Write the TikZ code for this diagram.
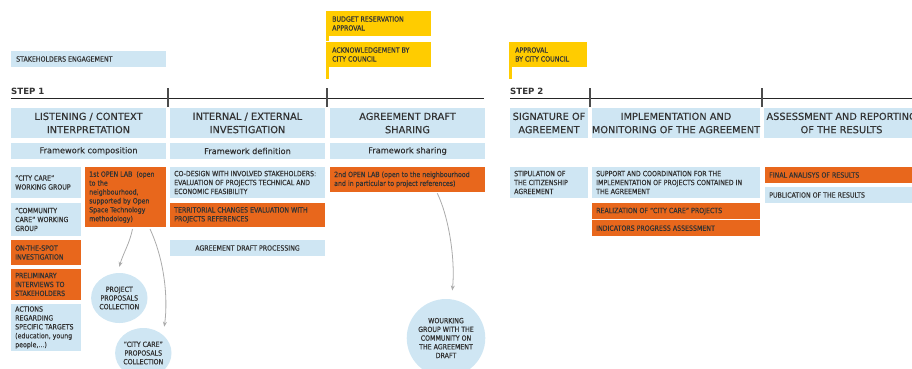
\documentclass[tikz,border=0pt]{standalone}
\usepackage{fontspec}
\setmainfont{DejaVu Sans}
\newfontfamily\smallf{DejaVu Sans}[FakeStretch=0.87,FakeBold=0.4]
\newfontfamily\headf{DejaVu Sans}[FakeBold=0.3]
\usetikzlibrary{shapes.geometric,arrows.meta,calc}
\definecolor{lb}{HTML}{CFE6F3}
\definecolor{og}{HTML}{E8671C}
\definecolor{yl}{HTML}{FFCC00}
\definecolor{tx}{HTML}{333333}
\definecolor{ar}{HTML}{ABABAB}
\tikzset{
 boxshape/.style={rectangle, anchor=north west, inner sep=0pt, outer sep=0pt},
 bluebox/.style={boxshape, fill=lb},
 orangebox/.style={boxshape, fill=og},
 yellowbox/.style={boxshape, fill=yl},
 small/.style={font=\smallf\fontsize{7.2}{8.9}\selectfont, text=tx, inner sep=0pt},
 head/.style={font=\headf\fontsize{9.8}{13.3}\selectfont, text=tx, inner sep=0pt},
 frametxt/.style={font=\headf\fontsize{8.2}{10}\selectfont, text=tx, inner sep=0pt},
 steplbl/.style={font=\fontsize{8.6}{10}\selectfont\bfseries, text=tx, inner sep=0pt, anchor=base west},
 rule/.style={draw=black!85, line width=0.9pt},
 tick/.style={draw=black!70, line width=1.1pt},
 arr/.style={draw=ar, line width=0.8pt, -{Stealth[length=5pt,width=4pt]}},
 bubble/.style={ellipse, fill=lb, inner sep=0pt, font=\smallf\fontsize{7.2}{8.7}\selectfont, text=tx, align=center},
}
\newcommand\lbx[8][4]{%
 \pgfmathsetmacro\bw{#6-#4}\pgfmathsetmacro\bh{#7-#5}%
 \node[#2, minimum width=\bw pt, minimum height=\bh pt] (#3) at (#4,#5) {};
 \node[small, anchor=west, align=left] (#3t) at ([xshift=#1pt]#3.west) {#8};}
\newcommand\cbx[8]{%
 \pgfmathsetmacro\bw{#5-#3}\pgfmathsetmacro\bh{#6-#4}%
 \node[#1, minimum width=\bw pt, minimum height=\bh pt] (#2) at (#3,#4) {};
 \node[#7, align=center] (#2t) at (#2.center) {#8};}
\begin{document}
\begin{tikzpicture}[x=1pt,y=-1pt]
\useasboundingbox (0,0) rectangle (912,368);
\clip (0,0) rectangle (912,368);

% yellow flags
\lbx[6]{yellowbox}{bud}{326}{11}{431}{36}{BUDGET RESERVATION\\APPROVAL}
\fill[yl] (bud.south west) rectangle ++(3,5);
\lbx[6]{yellowbox}{ack}{326}{42}{431}{67}{ACKNOWLEDGEMENT BY\\CITY COUNCIL}
\fill[yl] (ack.south west) rectangle ++(3,12);
\lbx[6]{yellowbox}{appr}{509}{42}{587}{67}{APPROVAL\\BY CITY COUNCIL}
\fill[yl] (appr.south west) rectangle ++(3,12);

% stakeholders
\lbx[5]{bluebox}{stake}{11}{51}{166}{67}{STAKEHOLDERS ENGAGEMENT}

% steps
\node[steplbl] (s1) at (11,94.5) {STEP 1};
\node[steplbl] (s2) at (510,94.5) {STEP 2};
\draw[rule] (11,98.3) -- (484,98.3);
\draw[rule] (510,98.3) -- (912,98.3);
\draw[tick] (168,88) -- (168,107);
\draw[tick] (327,88) -- (327,107);
\draw[tick] (590,88) -- (590,107);
\draw[tick] (762,88) -- (762,107);

% headers
\cbx{bluebox}{h1}{11}{108}{166}{138}{head}{LISTENING / CONTEXT\\INTERPRETATION}
\cbx{bluebox}{h2}{170}{108}{325}{138}{head}{INTERNAL / EXTERNAL\\INVESTIGATION}
\cbx{bluebox}{h3}{330}{108}{485}{138}{head}{AGREEMENT DRAFT\\SHARING}
\cbx{bluebox}{h4}{510}{108}{588}{138}{head}{SIGNATURE OF\\AGREEMENT}
\cbx{bluebox}{h5}{592}{108}{760}{138}{head}{IMPLEMENTATION AND\\MONITORING OF THE AGREEMENT}
\cbx{bluebox}{h6}{764}{108}{919}{138}{head}{ASSESSMENT AND REPORTING\\OF THE RESULTS}

\cbx{bluebox}{f1}{11}{143}{166}{159}{frametxt}{Framework composition}
\cbx{bluebox}{f2}{170}{143}{325}{159}{frametxt}{Framework definition}
\cbx{bluebox}{f3}{330}{143}{485}{159}{frametxt}{Framework sharing}

% column 1
\lbx{bluebox}{cc}{11}{167}{81}{198}{“CITY CARE”\\WORKING GROUP}
\lbx{bluebox}{comm}{11}{203}{81}{236}{“COMMUNITY\\CARE” WORKING\\GROUP}
\lbx{orangebox}{spot}{11}{240}{81}{265}{ON-THE-SPOT\\INVESTIGATION}
\lbx{orangebox}{prel}{11}{269}{81}{300}{PRELIMINARY\\INTERVIEWS TO\\STAKEHOLDERS}
\lbx{bluebox}{act}{11}{304}{81}{351}{ACTIONS\\REGARDING\\SPECIFIC TARGETS\\(education, young\\people,...)}
\lbx{orangebox}{lab1}{85}{167}{166}{227}{1st OPEN LAB\ \ (open\\to the\\neighbourhood,\\supported by Open\\Space Technology\\methodology)}

% column 2
\lbx{bluebox}{codes}{170}{167}{325}{198}{CO-DESIGN WITH INVOLVED STAKEHOLDERS:\\EVALUATION OF PROJECTS TECHNICAL AND\\ECONOMIC FEASIBILITY}
\lbx{orangebox}{terr}{170}{203}{325}{227}{TERRITORIAL CHANGES EVALUATION WITH\\PROJECTS REFERENCES}
\cbx{bluebox}{adp}{170}{240}{325}{256}{small}{AGREEMENT DRAFT PROCESSING}

% column 3
\lbx{orangebox}{lab2}{330}{167}{485}{192}{2nd OPEN LAB (open to the neighbourhood\\and in particular to project references)}

% step 2
\lbx{bluebox}{stip}{510}{167}{588}{198}{STIPULATION OF\\THE CITIZENSHIP\\AGREEMENT}
\lbx{bluebox}{supp}{592}{167}{760}{198}{SUPPORT AND COORDINATION FOR THE\\IMPLEMENTATION OF PROJECTS CONTAINED IN\\THE AGREEMENT}
\lbx{orangebox}{real}{592}{203}{760}{219.3}{REALIZATION OF “CITY CARE” PROJECTS}
\lbx{orangebox}{ind}{592}{220.3}{760}{236}{INDICATORS PROGRESS ASSESSMENT}
\lbx{orangebox}{fin}{765}{167}{919}{183}{FINAL ANALISYS OF RESULTS}
\lbx{bluebox}{pub}{765}{187}{919}{203}{PUBLICATION OF THE RESULTS}

% bubbles
\node[bubble, minimum width=55pt, minimum height=50pt] (c1) at (119.3,298) {PROJECT\\PROPOSALS\\COLLECTION};
\node[bubble, minimum width=55pt, minimum height=50pt] (c2) at (143.3,353) {“CITY CARE”\\PROPOSALS\\COLLECTION};
\node[bubble, minimum width=78pt, minimum height=78pt] (c3) at (446,338) {WOURKING\\GROUP WITH THE\\COMMUNITY ON\\THE AGREEMENT\\DRAFT};

% arrows
\draw[arr] ([shift={(7,2)}]lab1.south) .. controls +(-3,15) and +(4,-14) .. ([shift={(0,-6)}]c1.north);
\draw[arr] ([shift={(24.5,2)}]lab1.south) .. controls +(14,30) and +(4,-30) .. ([shift={(21,-26.3)}]c2.center);
\draw[arr] ([shift={(29.8,1.3)}]lab2.south) .. controls +(12,25) and +(3,-30) .. ([shift={(6.3,-8.3)}]c3.north);
\end{tikzpicture}
\end{document}
